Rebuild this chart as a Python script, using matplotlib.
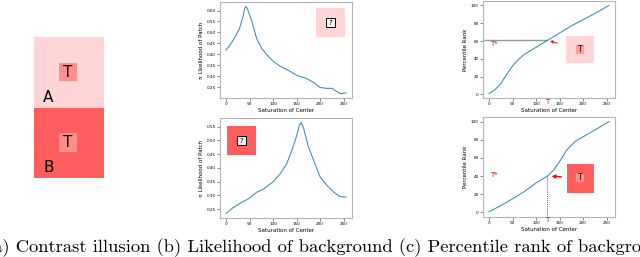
import matplotlib
matplotlib.use("Agg")
import matplotlib.pyplot as plt
from matplotlib.patches import Rectangle

# --- data ---
sat_b_top = [0, 8.5, 19, 28.4, 35.5, 39, 41.9, 45.5, 49.7, 54.7, 65.3, 76, 90.2, 100.9,
             115, 136, 150.6, 171.9, 186, 200, 214.5, 225, 235.8, 242.9, 255]
lik_b_top = [0.42, 0.442, 0.479, 0.516, 0.567, 0.604, 0.619, 0.609, 0.582, 0.553, 0.471,
             0.427, 0.39, 0.368, 0.346, 0.323, 0.304, 0.289, 0.272, 0.249, 0.245, 0.245,
             0.23, 0.221, 0.224]

sat_b_bot = [0, 15.6, 33, 50, 65, 79.5, 100, 115, 129, 140, 150.6, 156, 160, 165, 175,
             186, 200, 214.5, 228.7, 240, 255]
lik_b_bot = [0.234, 0.256, 0.274, 0.29, 0.311, 0.323, 0.349, 0.378, 0.415, 0.464, 0.519,
             0.556, 0.565, 0.544, 0.477, 0.428, 0.367, 0.336, 0.312, 0.297, 0.293]

sat_c_top = [0, 12, 25, 37, 50, 62, 75, 100, 125, 150, 175, 200, 225, 255]
rank_c_top = [1, 5, 12, 22, 32, 39, 45, 53, 61, 69, 77, 84, 91, 100]

sat_c_bot = [0, 25, 50, 75, 100, 125, 137, 150, 165.7, 183.5, 200, 225, 255]
rank_c_bot = [0.7, 7.5, 15, 23, 32.5, 40.3, 46.6, 56, 69, 78.4, 83.2, 90.7, 100]

t_top = (124, 61)   # target saturation / percentile, light background
t_bot = (123, 40)   # dark background

caption = "(a) Contrast illusion (b) Likelihood of background (c) Percentile rank of background"

W, H = 640, 257
fig = plt.figure(figsize=(W / 100, H / 100), dpi=100)

LIGHT = "#ffd5d5"
DARK = "#ff5e5e"
INNER = "#ff8f8f"
SPINE = "#b5b5b5"
LINE = "#3b86c4"


def px_axes(l, t, r, b):
    return fig.add_axes([l / W, (H - b) / H, (r - l) / W, (b - t) / H])


def style(ax):
    for s in ax.spines.values():
        s.set_color(SPINE)
        s.set_linewidth(0.8)
    ax.tick_params(length=2, width=0.5, labelsize=3, pad=1, color="#555555")
    ax.set_xticks([0, 50, 100, 150, 200, 250])
    ax.set_xlabel("Saturation of Center", fontsize=4, labelpad=1)


# (b) likelihood of background
ax1 = px_axes(220, 2, 352, 98)
ax1.plot(sat_b_top, lik_b_top, color=LINE, lw=0.75)
ax1.set_yticks([0.25, 0.30, 0.35, 0.40, 0.45, 0.50, 0.55, 0.60])
ax1.set_ylabel("\u221d Likelihood of Patch", fontsize=4, labelpad=2)
style(ax1)

ax2 = px_axes(220, 118, 352, 218)
ax2.plot(sat_b_bot, lik_b_bot, color=LINE, lw=0.75)
ax2.set_yticks([0.25, 0.30, 0.35, 0.40, 0.45, 0.50, 0.55])
ax2.set_ylabel("\u221d Likelihood of Patch", fontsize=4, labelpad=2)
style(ax2)

# (c) percentile rank of background
ax3 = px_axes(483, 1, 615, 98)
ax3.plot(sat_c_top, rank_c_top, color=LINE, lw=0.75)
ax3.set_yticks([0, 20, 40, 60, 80, 100])
ax3.set_ylabel("Percentile Rank", fontsize=4, labelpad=2)
style(ax3)
ax3.plot([ax3.get_xlim()[0], t_top[0]], [t_top[1], t_top[1]], color="#999999", lw=1, zorder=1)
ax3.set_xlim(-12.75, 267.75)
ax3.annotate("", xy=t_top, xytext=(560, H - 44), textcoords="figure pixels",
             arrowprops=dict(arrowstyle="-|>", color="red", lw=0.6, mutation_scale=4))
ax3.text(2, t_top[1] - 1, "T*", color="red", fontsize=5, ha="left", va="top")
ax3.text(t_top[0], -0.01, "T", color="red", fontsize=5, ha="center", va="top",
         transform=ax3.get_xaxis_transform(), clip_on=False)

ax4 = px_axes(483, 117, 615, 217)
ax4.plot(sat_c_bot, rank_c_bot, color=LINE, lw=0.75)
ax4.set_yticks([0, 20, 40, 60, 80, 100])
ax4.set_ylabel("Percentile Rank", fontsize=4, labelpad=2)
style(ax4)
ax4.plot([t_bot[0], t_bot[0]], [ax4.get_ylim()[0], t_bot[1]], color="#666666", lw=0.7,
         ls=(0, (1, 1)), zorder=1)
ax4.set_ylim(-5, 105)
ax4.annotate("", xy=(t_bot[0] + 4, t_bot[1]), xytext=(564, H - 177), textcoords="figure pixels",
             arrowprops=dict(arrowstyle="-|>", color="red", lw=1, mutation_scale=5))
ax4.text(2, t_bot[1] + 1, "T*", color="red", fontsize=5, ha="left", va="center")
ax4.text(t_bot[0], 0.0, "T", color="red", fontsize=5, ha="center", va="top",
         transform=ax4.get_xaxis_transform(), clip_on=False)

# overlay in figure pixels: illusion panel, patch boxes, caption
ov = fig.add_axes([0, 0, 1, 1], facecolor="none")
ov.set_xlim(0, W)
ov.set_ylim(H, 0)
ov.axis("off")


def rect(x0, y0, x1, y1, color, **kw):
    ov.add_patch(Rectangle((x0, y0), x1 - x0, y1 - y0, facecolor=color, edgecolor=kw.pop("ec", "none"), **kw))


# (a) contrast illusion
rect(34, 37, 104, 108, LIGHT)
rect(34, 108, 104, 178, DARK)
rect(59, 63, 77, 81, INNER)
rect(59, 133, 77, 152, INNER)
ov.text(68, 72.5, "T", fontsize=11, ha="center", va="center")
ov.text(68, 142.5, "T", fontsize=11, ha="center", va="center")
ov.text(48, 97, "A", fontsize=11, ha="center", va="center")
ov.text(48.5, 167.5, "B", fontsize=11, ha="center", va="center")

# boxes in (b)
rect(316, 8, 345, 37, LIGHT)
rect(326, 18, 335, 27, "#f4f4f4", ec="black", lw=0.7)
ov.text(330.5, 22.7, "?", fontsize=5, ha="center", va="center")
rect(227, 126, 256, 155, DARK)
rect(237, 136, 246, 145, "#f0f0f0", ec="black", lw=0.7)
ov.text(241.5, 140.7, "?", fontsize=5, ha="center", va="center")

# boxes in (c)
rect(566, 36, 594, 63, LIGHT)
rect(576, 45, 584, 54, "#ff9a9a")
ov.text(580, 49.5, "T", fontsize=5.5, ha="center", va="center")
rect(567, 164, 594, 193, DARK)
rect(576, 173, 584, 182, INNER)
ov.text(580, 177.5, "T", fontsize=5.5, ha="center", va="center")

ov.text(-14, 247.5, caption, fontname="cmr10", fontsize=13.4, ha="left", va="center")

fig.savefig("out.png", dpi=100)
